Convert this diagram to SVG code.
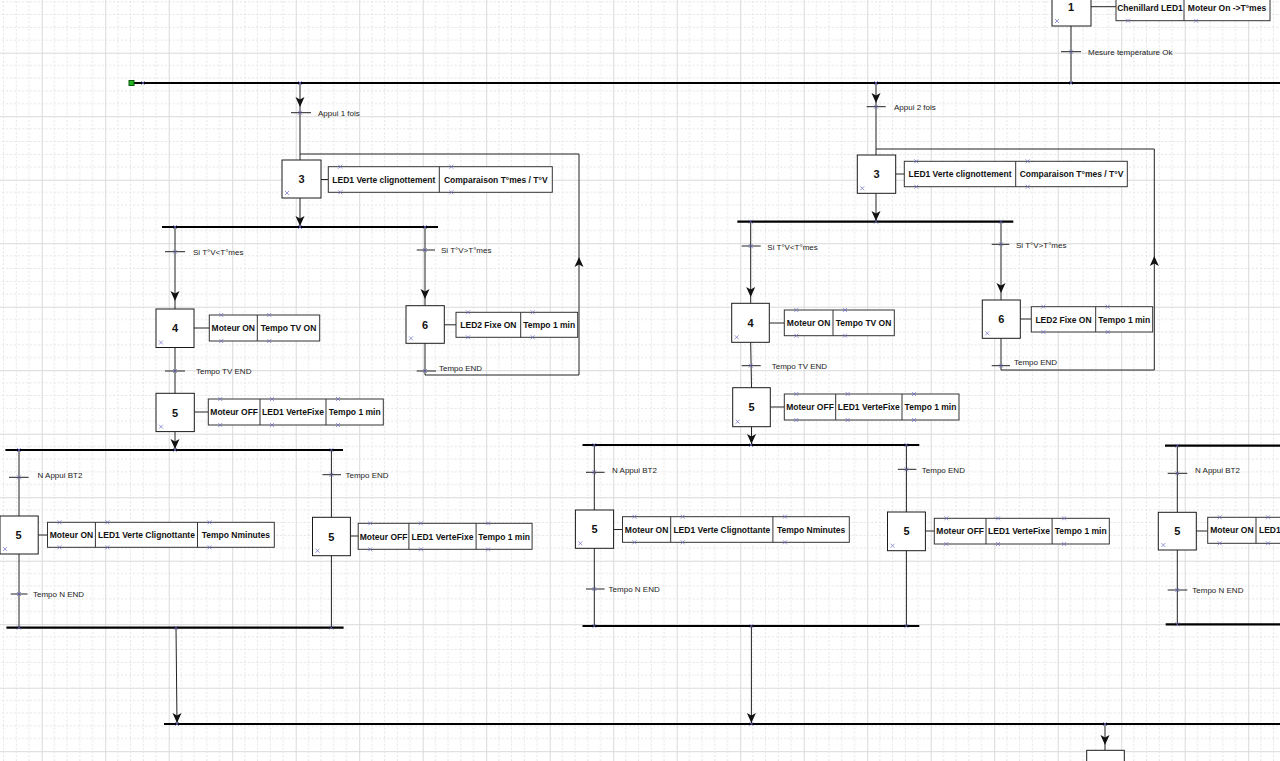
<svg xmlns="http://www.w3.org/2000/svg" xmlns:xlink="http://www.w3.org/1999/xlink" width="1280" height="761" viewBox="0 0 1280 761">
<style>
.ln{stroke:#222;stroke-width:1;fill:none}
.bar{stroke:#000;stroke-width:2.2;fill:none}
.tk{stroke:#222;stroke-width:1}
.step{fill:#fff;stroke:#1a1a1a;stroke-width:1}
.act{fill:#fff;stroke:#333;stroke-width:1}
.dv{stroke:#333;stroke-width:1}
.num{font-family:'Liberation Sans',Arial,sans-serif;font-weight:bold;font-size:11px;text-anchor:middle;fill:#111}
.at{font-family:'Liberation Sans',Arial,sans-serif;font-weight:bold;font-size:8.5px;text-anchor:middle;fill:#111}
.lb{font-family:'Liberation Sans',Arial,sans-serif;font-size:8px;fill:#222}
.mk{stroke:#6a6ac8;stroke-width:0.8;fill:none;opacity:0.85}
.arr{fill:#111}
</style>
<defs>
<pattern id="grid" patternUnits="userSpaceOnUse" x="41.7" y="52.7" width="63.5" height="63.5">
<path d="M12.7,0V63.5M25.4,0V63.5M38.1,0V63.5M50.8,0V63.5M0,12.7H63.5M0,25.4H63.5M0,38.1H63.5M0,50.8H63.5" stroke="#e4e4e4" stroke-width="1" stroke-dasharray="2,2" fill="none"/>
<path d="M0.5,0V63.5M0,0.5H63.5" stroke="#dadada" stroke-width="1" fill="none"/>
</pattern>
<path id="ad" d="M0,0L-4.5,-10L0,-7.5L4.5,-10Z"/>
<path id="au" d="M0,0L4.5,10L0,7.5L-4.5,10Z"/>
</defs>
<rect width="1280" height="761" fill="#fff"/>
<rect width="1280" height="761" fill="url(#grid)"/>

<g id="connectors">
<line class="bar" x1="131" y1="83" x2="1280" y2="83"/>
<line class="bar" x1="162" y1="227" x2="438" y2="227"/>
<line class="bar" x1="5.4" y1="450" x2="343" y2="450"/>
<line class="bar" x1="6.4" y1="627.7" x2="343.6" y2="627.7"/>
<line class="bar" x1="737.3" y1="221.7" x2="1013.3" y2="221.7"/>
<line class="bar" x1="582.5" y1="445" x2="919.3" y2="445"/>
<line class="bar" x1="582.5" y1="626" x2="919.3" y2="626"/>
<line class="bar" x1="1165" y1="445.7" x2="1280" y2="445.7"/>
<line class="bar" x1="1165.7" y1="624.3" x2="1280" y2="624.3"/>
<line class="bar" x1="164" y1="724" x2="1280" y2="724"/>

<path class="ln" d="M1071,26V83M1091,6.7H1116"/>
<path class="ln" d="M300,83V160M321,179.5H328.3M300,198V227M300,154H579V375H425M425,343V375"/>
<path class="ln" d="M175,227V309M194,328H209.3M175,347.5V393.3M194.3,412H208.3M175,431.7V450"/>
<path class="ln" d="M425,227V305.7M444.3,324.8H456"/>
<path class="ln" d="M19,450V516M38.2,535H47.5M19,554V627.7"/>
<path class="ln" d="M331.4,450V517.3M350.4,536H358.2M331.4,555.7V627.7"/>
<path class="ln" d="M176,627.7L177,724"/>
<path class="ln" d="M876,83V155M895.7,174H904.3M876,193.3V221.7M876,149H1154.3V370H1001M1001,338.3V370"/>
<path class="ln" d="M750.7,221.7V303.3M769.3,323H784.3M750.7,342.3L751.5,387.7M770.3,407H784.3M751.5,426.7V445"/>
<path class="ln" d="M1001,221.7V300M1020.3,319H1031.3"/>
<path class="ln" d="M594.3,445V510M613.6,529.5H622.5M594.3,548.3V626"/>
<path class="ln" d="M906.4,445V512M925.4,531H934.3M906.4,550.7V626"/>
<path class="ln" d="M751.4,626V724"/>
<path class="ln" d="M1177.3,445.7V512.3M1196.3,531H1207.7M1177.3,550V624.3"/>
<path class="ln" d="M1105,724V750.3"/>

<g class="arr">
<use xlink:href="#ad" x="300" y="107"/>
<use xlink:href="#ad" x="300" y="226"/>
<use xlink:href="#ad" x="175" y="301"/>
<use xlink:href="#ad" x="425" y="299"/>
<use xlink:href="#au" x="579" y="257"/>
<use xlink:href="#ad" x="175" y="449"/>
<use xlink:href="#ad" x="177" y="723"/>
<use xlink:href="#ad" x="751.4" y="723"/>
<use xlink:href="#ad" x="876" y="103"/>
<use xlink:href="#ad" x="876" y="221"/>
<use xlink:href="#ad" x="750.7" y="297"/>
<use xlink:href="#ad" x="1001" y="293"/>
<use xlink:href="#au" x="1154.3" y="256"/>
<use xlink:href="#ad" x="751.5" y="444"/>
<use xlink:href="#ad" x="1105" y="745"/>
</g>
<rect x="129" y="80.5" width="5" height="5" fill="#22b422" stroke="#0b5a0b" stroke-width="1"/>
</g>

<g id="transitions">
<line class="tk" x1="1061" y1="51.7" x2="1081" y2="51.7"/><text class="lb" x="1088" y="54.5">Mesure température Ok</text>
<line class="tk" x1="291" y1="112.7" x2="311" y2="112.7"/><text class="lb" x="318" y="115.5">Appui 1 fois</text>
<line class="tk" x1="165" y1="251.7" x2="185" y2="251.7"/><text class="lb" x="193" y="254.5">Si T°V&lt;T°mes</text>
<line class="tk" x1="416.7" y1="250" x2="435" y2="250"/><text class="lb" x="441" y="253">Si T°V&gt;T°mes</text>
<line class="tk" x1="165" y1="371" x2="185" y2="371"/><text class="lb" x="196" y="374">Tempo TV END</text>
<line class="tk" x1="416.7" y1="371" x2="436" y2="371"/><text class="lb" x="439" y="370.5">Tempo END</text>
<line class="tk" x1="9" y1="477.3" x2="28.6" y2="477.3"/><text class="lb" x="37.5" y="478">N Appui BT2</text>
<line class="tk" x1="10.7" y1="594" x2="27.5" y2="594"/><text class="lb" x="33" y="597">Tempo N END</text>
<line class="tk" x1="322.5" y1="474.7" x2="341" y2="474.7"/><text class="lb" x="345.5" y="477.5">Tempo END</text>
<line class="tk" x1="866.7" y1="106.7" x2="885.7" y2="106.7"/><text class="lb" x="894" y="109.5">Appui 2 fois</text>
<line class="tk" x1="741.7" y1="246" x2="760.7" y2="246"/><text class="lb" x="767.3" y="250">Si T°V&lt;T°mes</text>
<line class="tk" x1="991.7" y1="244.3" x2="1009.3" y2="244.3"/><text class="lb" x="1016" y="247.5">Si T°V&gt;T°mes</text>
<line class="tk" x1="741.7" y1="365.7" x2="760.7" y2="365.7"/><text class="lb" x="771.7" y="368.5">Tempo TV END</text>
<line class="tk" x1="991.7" y1="365.7" x2="1010" y2="365.7"/><text class="lb" x="1014" y="364.5">Tempo END</text>
<line class="tk" x1="586" y1="472.3" x2="604.6" y2="472.3"/><text class="lb" x="612" y="473">N Appui BT2</text>
<line class="tk" x1="586" y1="589" x2="604.6" y2="589"/><text class="lb" x="608.6" y="592">Tempo N END</text>
<line class="tk" x1="897.9" y1="469.3" x2="916.4" y2="469.3"/><text class="lb" x="921.8" y="473">Tempo END</text>
<line class="tk" x1="1167.7" y1="473.3" x2="1187.3" y2="473.3"/><text class="lb" x="1195" y="473">N Appui BT2</text>
<line class="tk" x1="1167.7" y1="590" x2="1187.3" y2="590"/><text class="lb" x="1192.3" y="593">Tempo N END</text>
</g>

<g id="step1">
<rect class="step" x="1052" y="-12" width="39" height="38"/><text class="num" x="1071" y="11">1</text>
<rect class="act" x="1116" y="-6" width="154" height="26.7"/><line class="dv" x1="1184" y1="-6" x2="1184" y2="20.7"/>
<text class="at" x="1150" y="10.5">Chenillard LED1</text><text class="at" x="1227" y="10.5">Moteur On -&gt;T°mes</text>
</g>
<g id="step3-left">
<rect class="step" x="282" y="160" width="39" height="38"/><text class="num" x="301.5" y="183">3</text>
<rect class="act" x="328.3" y="166.7" width="224" height="25.6"/><line class="dv" x1="439.3" y1="166.7" x2="439.3" y2="192.3"/>
<text class="at" x="383.8" y="182.5">LED1 Verte clignottement</text><text class="at" x="495.8" y="182.5">Comparaison T°mes / T°V</text>
</g>
<g id="step4-left">
<rect class="step" x="156" y="309" width="38" height="38.5"/><text class="num" x="175" y="332">4</text>
<rect class="act" x="209.3" y="315" width="110.4" height="26"/><line class="dv" x1="257.3" y1="315" x2="257.3" y2="341"/>
<text class="at" x="233.3" y="331">Moteur ON</text><text class="at" x="288.5" y="331">Tempo TV ON</text>
</g>
<g id="step5-left">
<rect class="step" x="156" y="393.3" width="38.3" height="38.3"/><text class="num" x="175" y="416.5">5</text>
<rect class="act" x="208.3" y="399" width="175" height="26"/><line class="dv" x1="260" y1="399" x2="260" y2="425"/><line class="dv" x1="326" y1="399" x2="326" y2="425"/>
<text class="at" x="234.2" y="415">Moteur OFF</text><text class="at" x="293" y="415">LED1 VerteFixe</text><text class="at" x="354.7" y="415">Tempo 1 min</text>
</g>
<g id="step6-left">
<rect class="step" x="406" y="305.7" width="38.3" height="37.6"/><text class="num" x="425" y="328.5">6</text>
<rect class="act" x="456" y="312.3" width="121.7" height="25"/><line class="dv" x1="520.7" y1="312.3" x2="520.7" y2="337.3"/>
<text class="at" x="488.4" y="328">LED2 Fixe ON</text><text class="at" x="549.2" y="328">Tempo 1 min</text>
</g>
<g id="step5-a">
<rect class="step" x="0" y="516" width="38.2" height="38"/><text class="num" x="18.5" y="539">5</text>
<rect class="act" x="47.5" y="522.3" width="226.8" height="25"/><line class="dv" x1="95.4" y1="522.3" x2="95.4" y2="547.3"/><line class="dv" x1="197.5" y1="522.3" x2="197.5" y2="547.3"/>
<text class="at" x="71.5" y="538">Moteur ON</text><text class="at" x="146.5" y="538">LED1 Verte Clignottante</text><text class="at" x="235.9" y="538">Tempo Nminutes</text>
</g>
<g id="step5-b">
<rect class="step" x="312.5" y="517.3" width="37.9" height="38.4"/><text class="num" x="331.4" y="540.5">5</text>
<rect class="act" x="358.2" y="523.3" width="173.9" height="26"/><line class="dv" x1="408.9" y1="523.3" x2="408.9" y2="549.3"/><line class="dv" x1="476.1" y1="523.3" x2="476.1" y2="549.3"/>
<text class="at" x="383.6" y="539.5">Moteur OFF</text><text class="at" x="442.5" y="539.5">LED1 VerteFixe</text><text class="at" x="504.1" y="539.5">Tempo 1 min</text>
</g>
<g id="step3-right">
<rect class="step" x="857.3" y="155" width="38.4" height="38.3"/><text class="num" x="876.5" y="178">3</text>
<rect class="act" x="904.3" y="161.3" width="223" height="25.4"/><line class="dv" x1="1015.7" y1="161.3" x2="1015.7" y2="186.7"/>
<text class="at" x="960" y="177">LED1 Verte clignottement</text><text class="at" x="1071.5" y="177">Comparaison T°mes / T°V</text>
</g>
<g id="step4-right">
<rect class="step" x="731.7" y="303.3" width="37.6" height="39"/><text class="num" x="750.5" y="327">4</text>
<rect class="act" x="784.3" y="310" width="110" height="25.7"/><line class="dv" x1="833" y1="310" x2="833" y2="335.7"/>
<text class="at" x="808.6" y="326">Moteur ON</text><text class="at" x="863.6" y="326">Tempo TV ON</text>
</g>
<g id="step5-right">
<rect class="step" x="732.7" y="387.7" width="37.6" height="39"/><text class="num" x="751.5" y="411">5</text>
<rect class="act" x="784.3" y="394" width="174.7" height="26"/><line class="dv" x1="835.7" y1="394" x2="835.7" y2="420"/><line class="dv" x1="902" y1="394" x2="902" y2="420"/>
<text class="at" x="810" y="410">Moteur OFF</text><text class="at" x="868.8" y="410">LED1 VerteFixe</text><text class="at" x="930.5" y="410">Tempo 1 min</text>
</g>
<g id="step6-right">
<rect class="step" x="982.3" y="300" width="38" height="38.3"/><text class="num" x="1001.3" y="323">6</text>
<rect class="act" x="1031.3" y="306.7" width="121.4" height="25.3"/><line class="dv" x1="1095.7" y1="306.7" x2="1095.7" y2="332"/>
<text class="at" x="1063.5" y="322.5">LED2 Fixe ON</text><text class="at" x="1124.2" y="322.5">Tempo 1 min</text>
</g>
<g id="step5-c">
<rect class="step" x="575.4" y="510" width="38.2" height="38.3"/><text class="num" x="594.5" y="533">5</text>
<rect class="act" x="622.5" y="516.7" width="226.8" height="25.6"/><line class="dv" x1="670.7" y1="516.7" x2="670.7" y2="542.3"/><line class="dv" x1="772.9" y1="516.7" x2="772.9" y2="542.3"/>
<text class="at" x="646.6" y="532.5">Moteur ON</text><text class="at" x="721.8" y="532.5">LED1 Verte Clignottante</text><text class="at" x="811.1" y="532.5">Tempo Nminutes</text>
</g>
<g id="step5-d">
<rect class="step" x="887.5" y="512" width="37.9" height="38.7"/><text class="num" x="906.5" y="535">5</text>
<rect class="act" x="934.3" y="518.3" width="175" height="25.7"/><line class="dv" x1="986" y1="518.3" x2="986" y2="544"/><line class="dv" x1="1052.1" y1="518.3" x2="1052.1" y2="544"/>
<text class="at" x="960.2" y="534.2">Moteur OFF</text><text class="at" x="1019" y="534.2">LED1 VerteFixe</text><text class="at" x="1080.7" y="534.2">Tempo 1 min</text>
</g>
<g id="step5-e">
<rect class="step" x="1158.3" y="512.3" width="38" height="37.7"/><text class="num" x="1177.3" y="535">5</text>
<rect class="act" x="1207.7" y="517.3" width="90" height="26"/><line class="dv" x1="1256" y1="517.3" x2="1256" y2="543.3"/>
<text class="at" x="1231.9" y="533.3">Moteur ON</text><text class="at" x="1259" y="533.3" style="text-anchor:start">LED1</text>
</g>
<g id="step-bottom">
<rect class="step" x="1086.7" y="750.3" width="37.6" height="38"/>
</g>

<path class="mk" d="M1055,19l4,4m0,-4l-4,4M285,191l4,4m0,-4l-4,4M159,340.5l4,4m0,-4l-4,4M159,424.7l4,4m0,-4l-4,4M409,336.3l4,4m0,-4l-4,4M3,547l4,4m0,-4l-4,4M315.5,548.7l4,4m0,-4l-4,4M860.3,186.3l4,4m0,-4l-4,4M734.7,335.3l4,4m0,-4l-4,4M735.7,419.7l4,4m0,-4l-4,4M985.3,331.3l4,4m0,-4l-4,4M578.4,541.3l4,4m0,-4l-4,4M890.5,543.7l4,4m0,-4l-4,4M1161.3,543l4,4m0,-4l-4,4
M1126,18.7l4,4m0,-4l-4,4M1194,18.7l4,4m0,-4l-4,4
M338.3,164.7l4,4m0,-4l-4,4M449.3,164.7l4,4m0,-4l-4,4M338.3,190.3l4,4m0,-4l-4,4M449.3,190.3l4,4m0,-4l-4,4
M219.3,313l4,4m0,-4l-4,4M267.3,313l4,4m0,-4l-4,4M219.3,339l4,4m0,-4l-4,4M267.3,339l4,4m0,-4l-4,4
M218.3,397l4,4m0,-4l-4,4M270,397l4,4m0,-4l-4,4M336,397l4,4m0,-4l-4,4M218.3,423l4,4m0,-4l-4,4M270,423l4,4m0,-4l-4,4M336,423l4,4m0,-4l-4,4
M466,310.3l4,4m0,-4l-4,4M530.7,310.3l4,4m0,-4l-4,4M466,335.3l4,4m0,-4l-4,4M530.7,335.3l4,4m0,-4l-4,4
M57.5,520.3l4,4m0,-4l-4,4M105.4,520.3l4,4m0,-4l-4,4M207.5,520.3l4,4m0,-4l-4,4M57.5,545.3l4,4m0,-4l-4,4M105.4,545.3l4,4m0,-4l-4,4M207.5,545.3l4,4m0,-4l-4,4
M368.2,521.3l4,4m0,-4l-4,4M418.9,521.3l4,4m0,-4l-4,4M486.1,521.3l4,4m0,-4l-4,4M368.2,547.3l4,4m0,-4l-4,4M418.9,547.3l4,4m0,-4l-4,4M486.1,547.3l4,4m0,-4l-4,4
M914.3,159.3l4,4m0,-4l-4,4M1025.7,159.3l4,4m0,-4l-4,4M914.3,184.7l4,4m0,-4l-4,4M1025.7,184.7l4,4m0,-4l-4,4
M794.3,308l4,4m0,-4l-4,4M843,308l4,4m0,-4l-4,4M794.3,333.7l4,4m0,-4l-4,4M843,333.7l4,4m0,-4l-4,4
M794.3,392l4,4m0,-4l-4,4M845.7,392l4,4m0,-4l-4,4M912,392l4,4m0,-4l-4,4M794.3,418l4,4m0,-4l-4,4M845.7,418l4,4m0,-4l-4,4M912,418l4,4m0,-4l-4,4
M1041.3,304.7l4,4m0,-4l-4,4M1105.7,304.7l4,4m0,-4l-4,4M1041.3,330l4,4m0,-4l-4,4M1105.7,330l4,4m0,-4l-4,4
M632.5,514.7l4,4m0,-4l-4,4M680.7,514.7l4,4m0,-4l-4,4M782.9,514.7l4,4m0,-4l-4,4M632.5,540.3l4,4m0,-4l-4,4M680.7,540.3l4,4m0,-4l-4,4M782.9,540.3l4,4m0,-4l-4,4
M944.3,516.3l4,4m0,-4l-4,4M996,516.3l4,4m0,-4l-4,4M1062.1,516.3l4,4m0,-4l-4,4M944.3,542l4,4m0,-4l-4,4M996,542l4,4m0,-4l-4,4M1062.1,542l4,4m0,-4l-4,4
M1217.7,515.3l4,4m0,-4l-4,4M1266,515.3l4,4m0,-4l-4,4M1217.7,541.3l4,4m0,-4l-4,4M1266,541.3l4,4m0,-4l-4,4
M1069,49.7l4,4m0,-4l-4,4M298,110.7l4,4m0,-4l-4,4M173,249.7l4,4m0,-4l-4,4M423,248l4,4m0,-4l-4,4M173,369l4,4m0,-4l-4,4M423,369l4,4m0,-4l-4,4M17,475.3l4,4m0,-4l-4,4M17,592l4,4m0,-4l-4,4M329.4,472.7l4,4m0,-4l-4,4M874,104.7l4,4m0,-4l-4,4M748.7,244l4,4m0,-4l-4,4M999,242.3l4,4m0,-4l-4,4M748.7,363.7l4,4m0,-4l-4,4M999,363.7l4,4m0,-4l-4,4M592.3,470.3l4,4m0,-4l-4,4M592.3,587l4,4m0,-4l-4,4M904.4,467.3l4,4m0,-4l-4,4M1175.3,471.3l4,4m0,-4l-4,4M1175.3,588l4,4m0,-4l-4,4
M298,225l4,4m0,-4l-4,4M173,225l4,4m0,-4l-4,4M423,225l4,4m0,-4l-4,4M173,448l4,4m0,-4l-4,4M17,448l4,4m0,-4l-4,4M329.4,448l4,4m0,-4l-4,4M174,625.7l4,4m0,-4l-4,4M17,625.7l4,4m0,-4l-4,4M329.4,625.7l4,4m0,-4l-4,4M874,219.7l4,4m0,-4l-4,4M748.7,219.7l4,4m0,-4l-4,4M999,219.7l4,4m0,-4l-4,4M749,443l4,4m0,-4l-4,4M592.3,443l4,4m0,-4l-4,4M904.4,443l4,4m0,-4l-4,4M749.4,624l4,4m0,-4l-4,4M592.3,624l4,4m0,-4l-4,4M904.4,624l4,4m0,-4l-4,4M1175.3,443.7l4,4m0,-4l-4,4M1175.3,622.3l4,4m0,-4l-4,4M175,722l4,4m0,-4l-4,4M749.4,722l4,4m0,-4l-4,4M1103,722l4,4m0,-4l-4,4M1069,81l4,4m0,-4l-4,4M298,81l4,4m0,-4l-4,4M874,81l4,4m0,-4l-4,4M141,81l4,4m0,-4l-4,4"/>
</svg>
